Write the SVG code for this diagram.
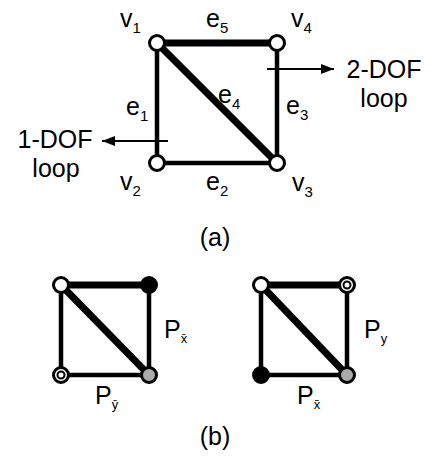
<svg xmlns="http://www.w3.org/2000/svg" width="430" height="468" viewBox="0 0 430 468">
<style>
text{font-family:"Liberation Sans",Arial,sans-serif;fill:#000}
.lb{font-size:25px}
.sb{font-size:15px}
.ss{font-size:13px}
.thick{stroke:#000;stroke-width:7;fill:none}
.thin{stroke:#000;stroke-width:4.5;fill:none}
.arr{stroke:#000;stroke-width:2;fill:none}
.wn{fill:#fff;stroke:#000;stroke-width:3}
.bn{fill:#000;stroke:#000;stroke-width:3}
.gn{fill:#aaa;stroke:#000;stroke-width:3}
</style>
<defs>
<marker id="ah" markerWidth="13" markerHeight="10" refX="13" refY="5" orient="auto" markerUnits="userSpaceOnUse">
<path d="M0,0 L13,5 L0,10 z" fill="#000"/>
</marker>
</defs>
<g id="connectors">
<line class="thin" x1="157" y1="43" x2="157" y2="163"/>
<line class="thin" x1="157" y1="163" x2="277" y2="163"/>
<line class="thin" x1="277" y1="43" x2="277" y2="163"/>
<line class="thick" x1="157" y1="43" x2="277" y2="43"/>
<line class="thick" x1="157" y1="43" x2="277" y2="163"/>
<line class="arr" x1="168" y1="141" x2="102" y2="141" marker-end="url(#ah)"/>
<line class="arr" x1="267" y1="69" x2="334" y2="69" marker-end="url(#ah)"/>
<line class="thin" x1="61" y1="285" x2="61" y2="375"/>
<line class="thin" x1="61" y1="375" x2="149" y2="375"/>
<line class="thin" x1="149" y1="285" x2="149" y2="375"/>
<line class="thick" x1="61" y1="285" x2="149" y2="285"/>
<line class="thick" x1="61" y1="285" x2="149" y2="375"/>
<line class="thin" x1="261" y1="285" x2="261" y2="375"/>
<line class="thin" x1="261" y1="375" x2="347" y2="375"/>
<line class="thin" x1="347" y1="285" x2="347" y2="375"/>
<line class="thick" x1="261" y1="285" x2="347" y2="285"/>
<line class="thick" x1="261" y1="285" x2="347" y2="375"/>
</g>
<g id="v1"><circle class="wn" cx="157" cy="43" r="7.5"/><text class="lb" x="120" y="27">v<tspan class="sb" dy="6">1</tspan></text></g>
<g id="v4"><circle class="wn" cx="277" cy="43" r="7.5"/><text class="lb" x="291" y="27">v<tspan class="sb" dy="6">4</tspan></text></g>
<g id="v2"><circle class="wn" cx="157" cy="163" r="7.5"/><text class="lb" x="120" y="190">v<tspan class="sb" dy="6">2</tspan></text></g>
<g id="v3"><circle class="wn" cx="277" cy="163" r="7.5"/><text class="lb" x="292" y="191">v<tspan class="sb" dy="6">3</tspan></text></g>
<g id="edge-labels">
<text class="lb" x="206" y="27">e<tspan class="sb" dy="6">5</tspan></text>
<text class="lb" x="218" y="103">e<tspan class="sb" dy="6">4</tspan></text>
<text class="lb" x="126" y="115">e<tspan class="sb" dy="6">1</tspan></text>
<text class="lb" x="286" y="114">e<tspan class="sb" dy="6">3</tspan></text>
<text class="lb" x="206" y="190">e<tspan class="sb" dy="6">2</tspan></text>
</g>
<g id="dof1"><text class="lb" text-anchor="middle"><tspan x="55" y="148">1-DOF</tspan><tspan x="56" y="177">loop</tspan></text></g>
<g id="dof2"><text class="lb" text-anchor="middle"><tspan x="384" y="78">2-DOF</tspan><tspan x="384" y="107">loop</tspan></text></g>
<text class="lb" x="215" y="246" text-anchor="middle">(a)</text>
<g id="b-left">
<circle class="wn" cx="61" cy="285" r="7.5"/>
<circle class="bn" cx="149" cy="285" r="7.5"/>
<circle class="wn" cx="61" cy="375" r="7.5"/><circle fill="#fff" stroke="#000" stroke-width="2" cx="61" cy="375" r="3.5"/>
<circle class="gn" cx="149" cy="375" r="7.5"/>
<text class="lb" x="164" y="338">P<tspan class="ss" dy="5">x̄</tspan></text>
<text class="lb" x="95" y="404">P<tspan class="ss" dy="5">ȳ</tspan></text>
</g>
<g id="b-right">
<circle class="wn" cx="261" cy="285" r="7.5"/>
<circle class="wn" cx="347" cy="285" r="7.5"/><circle fill="#fff" stroke="#000" stroke-width="2" cx="347" cy="285" r="3.5"/>
<circle class="bn" cx="261" cy="375" r="7.5"/>
<circle class="gn" cx="347" cy="375" r="7.5"/>
<text class="lb" x="364" y="338">P<tspan class="ss" dy="5">y</tspan></text>
<text class="lb" x="297" y="404">P<tspan class="ss" dy="5">x̄</tspan></text>
</g>
<text class="lb" x="215" y="445" text-anchor="middle">(b)</text>
</svg>
